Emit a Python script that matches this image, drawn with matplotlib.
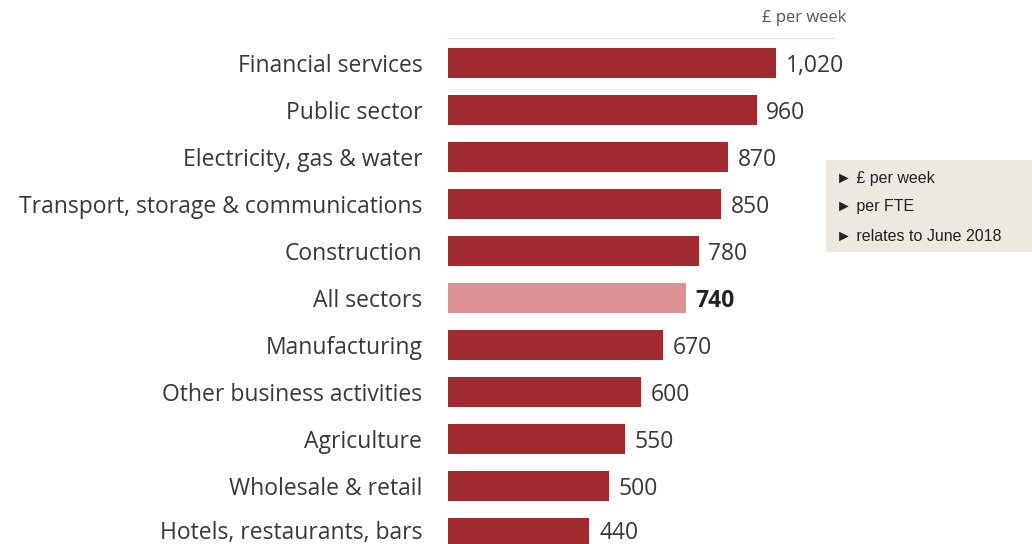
import matplotlib.pyplot as plt
from matplotlib.patches import Rectangle

sectors = ["Financial services", "Public sector", "Electricity, gas & water",
           "Transport, storage & communications", "Construction", "All sectors",
           "Manufacturing", "Other business activities", "Agriculture",
           "Wholesale & retail", "Hotels, restaurants, bars"]
pay = [1020, 960, 870, 850, 780, 740, 670, 600, 550, 500, 440]
notes = ["\u25ba \u00a3 per week", "\u25ba per FTE", "\u25ba relates to June 2018"]

dark = "#a02a2e"
light = "#dc9294"
colors = [light if s == "All sectors" else dark for s in sectors]

fig = plt.figure(figsize=(10.32, 5.44), dpi=100)
ax = fig.add_axes([0, 0, 1, 1])
ypos = list(range(len(sectors)))
ax.barh(ypos, pay, height=0.64, color=colors)
ax.set_xlim(-1393, 1816)
ax.set_ylim(10.234, -1.340)
ax.axis("off")

font = "Open Sans"
last = len(sectors) - 1
for y, s, v in zip(ypos, sectors, pay):
    dy = 0.0 if y == last else 0.06  # keep the bottom row inside the frame
    ax.text(-80, y + dy, s, ha="right", va="center", fontsize=16.5, family=font,
            color="#383838")
    bold = s == "All sectors"
    ax.text(v + 30, y + dy, f"{v:,}", ha="left", va="center", fontsize=16.5, family=font,
            color="#222222" if bold else "#383838",
            fontweight="bold" if bold else "normal")

# unit header and thin rule above the bars
ax.plot([0, 1200], [-0.53, -0.53], color="#e6e0e0", lw=1)
ax.text(1240, -0.96, "\u00a3 per week", ha="right", va="center", fontsize=12,
        family=font, color="#555555")

# notes panel on the right
fig.patches.append(Rectangle((826 / 1032, 1 - 252 / 544), 206 / 1032, 92 / 544,
                             transform=fig.transFigure, facecolor="#ece9e1",
                             edgecolor="none"))
for i, n in enumerate(notes):
    fig.text(836 / 1032, 1 - (178 + 29 * i) / 544, n, ha="left", va="center",
             fontsize=11.5, family="Liberation Sans", color="#222222")

fig.savefig("out.png", dpi=100)
